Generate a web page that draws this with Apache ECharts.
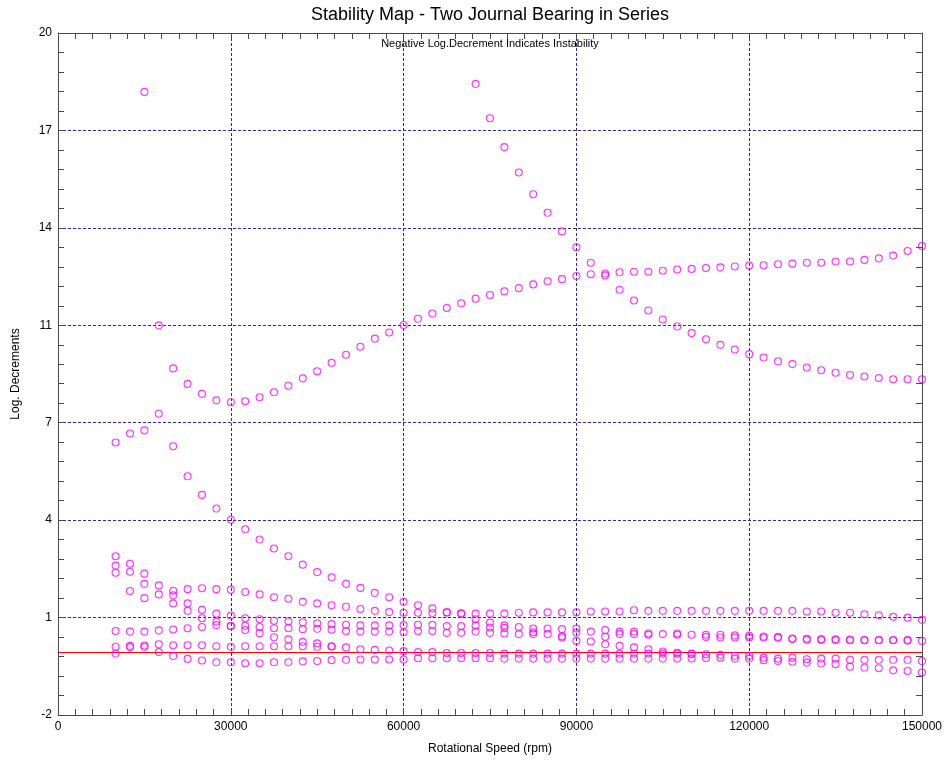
<!DOCTYPE html>
<html><head><meta charset="utf-8">
<script src="https://cdn.jsdelivr.net/npm/echarts@6/dist/echarts.min.js"></script>
<style>html,body{margin:0;padding:0;background:#fff}#c{width:946px;height:761px}</style>
</head><body><div id="c"></div>
<script>
const speeds = [10000,12500,15000,17500,20000,22500,25000,27500,30000,32500,35000,37500,40000,42500,45000,47500,50000,52500,55000,57500,60000,62500,65000,67500,70000,72500,75000,77500,80000,82500,85000,87500,90000,92500,95000,97500,100000,102500,105000,107500,110000,112500,115000,117500,120000,122500,125000,127500,130000,132500,135000,137500,140000,142500,145000,147500,150000];

const mode1 = [null,null,18.10,10.57,9.18,8.68,8.36,8.15,8.09,8.12,8.25,8.41,8.62,8.86,9.09,9.36,9.62,9.88,10.14,10.34,10.58,10.78,10.95,11.13,11.28,11.43,11.55,11.67,11.77,11.89,11.99,12.06,12.16,12.22,12.24,12.28,12.30,12.30,12.33,12.37,12.39,12.42,12.44,12.47,12.50,12.51,12.54,12.56,12.59,12.59,12.63,12.63,12.68,12.73,12.82,12.97,13.13];

const mode2 = [null,null,null,null,null,null,null,null,null,null,null,null,null,null,null,null,null,null,null,null,null,null,null,null,null,18.36,17.25,16.32,15.50,14.80,14.20,13.60,13.09,12.59,12.18,11.72,11.37,11.05,10.76,10.53,10.32,10.12,9.94,9.79,9.64,9.53,9.41,9.32,9.21,9.12,9.04,8.97,8.92,8.87,8.83,8.83,8.83];

const mode3 = [6.79,7.08,7.18,7.72,6.67,5.70,5.10,4.66,4.30,3.99,3.66,3.37,3.12,2.85,2.61,2.44,2.23,2.10,1.94,1.80,1.65,1.54,1.44,1.31,1.28,1.27,1.27,1.27,1.30,1.31,1.31,1.31,1.31,1.34,1.34,1.34,1.38,1.36,1.36,1.36,1.36,1.36,1.36,1.36,1.36,1.36,1.36,1.36,1.34,1.34,1.30,1.30,1.25,1.22,1.17,1.14,1.07];

const mode4 = [2.59,2.00,1.77,1.89,2.01,2.06,2.09,2.06,2.04,1.97,1.89,1.80,1.75,1.65,1.60,1.54,1.49,1.42,1.36,1.32,1.30,1.30,1.29,1.31,1.27,1.09,0.98,0.89,0.84,0.79,0.79,0.77,0.79,0.69,0.74,0.69,0.69,0.63,0.61,0.63,0.59,0.59,0.59,0.57,0.56,0.53,0.52,0.47,0.46,0.45,0.44,0.43,0.42,0.42,0.42,0.42,0.39];

const mode5 = [3.12,2.88,2.56,2.18,1.86,1.60,1.39,1.27,1.21,1.12,1.09,1.04,1.02,0.99,0.96,0.93,0.91,0.89,0.89,0.89,0.90,0.91,0.91,0.87,0.87,0.89,0.82,0.81,null,0.67,null,0.54,0.66,null,0.52,0.61,0.61,0.59,null,0.59,null,0.52,0.50,0.50,0.50,0.50,0.49,0.45,0.43,0.42,0.42,0.41,0.41,0.41,0.41,0.40,null];

const mode6 = [2.82,2.62,2.23,null,1.60,1.36,1.12,1.01,0.87,0.88,0.84,0.80,0.80,0.77,0.78,0.75,0.71,0.69,0.69,0.69,0.67,0.71,0.71,0.65,0.65,0.69,0.65,0.63,0.61,0.61,0.61,0.50,0.39,0.37,0.28,0.23,0.18,0.12,0.05,0.01,-0.02,null,null,null,null,null,null,null,null,null,null,null,null,null,null,null,null];

const mode7 = [0.71,0.69,0.69,0.73,0.76,0.80,0.84,0.90,0.87,0.74,0.64,0.51,0.44,0.36,0.31,0.22,0.18,0.12,0.10,0.08,0.06,0.03,0.03,0.00,0.00,0.00,0.00,-0.02,-0.02,-0.02,-0.02,-0.02,-0.02,-0.02,-0.02,-0.02,-0.02,-0.02,-0.02,-0.02,-0.03,-0.04,-0.06,-0.09,-0.09,-0.15,-0.18,-0.15,-0.20,-0.18,-0.18,-0.22,-0.22,-0.22,-0.22,-0.22,-0.26];

const mode8 = [0.20,0.19,0.20,0.28,0.25,0.25,0.25,0.22,0.20,0.22,0.22,0.22,0.22,0.22,0.20,0.21,null,null,null,null,null,null,null,null,null,null,null,null,null,null,null,null,null,null,null,null,null,null,null,null,null,null,null,null,null,null,null,null,null,null,null,null,null,null,null,null,null];

const mode9 = [-0.02,0.23,0.24,0.03,-0.10,-0.19,-0.24,-0.30,-0.30,-0.33,-0.33,-0.30,-0.30,-0.27,-0.26,-0.23,-0.22,-0.21,-0.21,-0.21,-0.21,-0.17,-0.17,-0.17,-0.17,-0.17,-0.17,-0.18,-0.18,-0.18,-0.18,-0.18,-0.18,-0.18,-0.18,-0.18,-0.18,-0.18,-0.18,-0.18,-0.18,-0.16,-0.15,-0.18,-0.18,-0.23,-0.26,-0.28,-0.31,-0.34,-0.36,-0.44,-0.47,-0.49,-0.56,-0.58,-0.63];

const xTickLabels = ['0','30000','60000','90000','120000','150000'];
const yTickLabels = ['-2','1','4','7','11','14','17','20'];
const stabilityLimit = 0;

const X_MIN = 0, X_MAX = 150000, X_STEP = 30000;
const Y_MIN = -2, Y_MAX = 20, Y_DIVS = yTickLabels.length - 1;
const yStep = (Y_MAX - Y_MIN) / Y_DIVS;
const toAxis = v => (v - Y_MIN) / yStep;

const modes = [mode1, mode2, mode3, mode4, mode5, mode6, mode7, mode8, mode9];
const FONT = 'Liberation Sans, Arial, sans-serif';
const frame = '#4a4a4a';
const gridCol = '#2a2a9e';

const scatterSeries = modes.map((arr, k) => ({
  type: 'scatter',
  name: 'mode' + (k + 1),
  data: arr.map((v, i) => v == null ? null : [speeds[i], toAxis(v)]).filter(Boolean),
  symbol: 'circle',
  symbolSize: 7,
  itemStyle: { color: 'rgba(0,0,0,0)', borderColor: '#ff00ff', borderWidth: 1.1 },
  silent: true,
  z: 3
}));

scatterSeries[0].markLine = {
  silent: true,
  symbol: 'none',
  label: { show: false },
  lineStyle: { color: '#ff0000', width: 1, type: 'solid' },
  data: [{ yAxis: toAxis(stabilityLimit) }],
  z: 2
};

const tickCommon = {
  axisTick: { show: true, inside: true, length: 6, lineStyle: { color: frame } },
  minorTick: { show: true, length: 6, lineStyle: { color: frame } },
  axisLine: { show: true, onZero: false, lineStyle: { color: frame, width: 1 } }
};

const option = {
  animation: false,
  backgroundColor: '#fff',
  textStyle: { fontFamily: FONT },
  grid: { left: 58, right: 24, top: 33, bottom: 46, containLabel: false },
  graphic: [
    { type: 'text', x: 490, y: 6, style: { text: 'Stability Map - Two Journal Bearing in Series', font: '18px ' + FONT, fill: '#000', align: 'center', verticalAlign: 'top' } },
    { type: 'text', x: 490, y: 38, style: { text: 'Negative Log.Decrement Indicates Instability', font: '11px ' + FONT, fill: '#000', align: 'center', verticalAlign: 'top' } }
  ],
  xAxis: [
    Object.assign({}, tickCommon, {
      type: 'value', position: 'bottom', min: X_MIN, max: X_MAX, interval: X_STEP,
      minorTick: Object.assign({}, tickCommon.minorTick, { splitNumber: 10 }),
      axisLabel: { color: '#000', fontSize: 12, margin: 6, formatter: (v) => xTickLabels[Math.round(v / X_STEP)] },
      splitLine: { show: true, lineStyle: { color: gridCol, type: [3, 2], width: 1 } },
      name: 'Rotational Speed (rpm)', nameLocation: 'middle', nameGap: 28,
      nameTextStyle: { color: '#000', fontSize: 12 }
    }),
    Object.assign({}, tickCommon, {
      type: 'value', position: 'top', min: X_MIN, max: X_MAX, interval: X_STEP,
      minorTick: Object.assign({}, tickCommon.minorTick, { splitNumber: 10 }),
      axisLabel: { show: false }, splitLine: { show: false }
    })
  ],
  yAxis: [
    Object.assign({}, tickCommon, {
      type: 'value', position: 'left', min: 0, max: Y_DIVS, interval: 1,
      minorTick: Object.assign({}, tickCommon.minorTick, { splitNumber: 5 }),
      axisLabel: { color: '#000', fontSize: 12, margin: 6, formatter: (v) => yTickLabels[Math.round(v)] },
      splitLine: { show: true, lineStyle: { color: gridCol, type: [3, 2], width: 1 } },
      name: 'Log. Decrements', nameLocation: 'middle', nameGap: 36, nameRotate: 90,
      nameTextStyle: { color: '#000', fontSize: 12 }
    }),
    Object.assign({}, tickCommon, {
      type: 'value', position: 'right', min: 0, max: Y_DIVS, interval: 1,
      minorTick: Object.assign({}, tickCommon.minorTick, { splitNumber: 5 }),
      axisLabel: { show: false }, splitLine: { show: false }
    })
  ],
  series: scatterSeries
};

const chart = echarts.init(document.getElementById('c'), null, { renderer: 'canvas' });
chart.setOption(option);
</script>
</body></html>
